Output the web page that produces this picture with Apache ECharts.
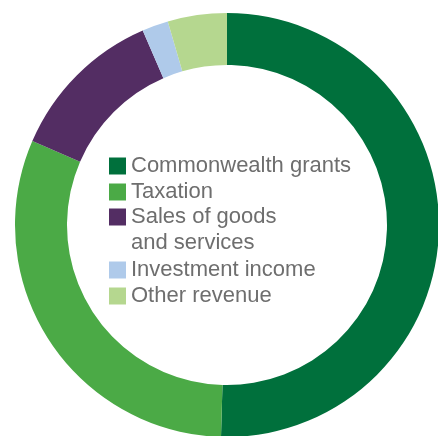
<!DOCTYPE html>
<html>
<head>
<meta charset="utf-8">
<script src="https://cdn.jsdelivr.net/npm/echarts@6/dist/echarts.min.js"></script>
<style>
html,body{margin:0;padding:0;background:#fff;}
#chart{width:438px;height:436px;}
</style>
</head>
<body>
<div id="chart"></div>
<script>
const categories = ['Commonwealth grants', 'Taxation', 'Sales of goods\nand services', 'Investment income', 'Other revenue'];
const values = [50.4, 31.0, 12.0, 2.0, 4.5];
const colors = ['#00703C', '#4BAA46', '#532D63', '#AFCAEA', '#B5D78F'];

const textStyle = {
  fontFamily: 'Liberation Sans',
  fontSize: 22,
  lineHeight: 26,
  color: '#6e6e6e'
};
function legendBlock(names, top, extra) {
  return Object.assign({
    orient: 'vertical',
    left: 109,
    top: top,
    padding: 0,
    itemWidth: 17,
    itemHeight: 17,
    itemGap: 0,
    icon: 'rect',
    selectedMode: false,
    textStyle: textStyle,
    data: names
  }, extra || {});
}

const chart = echarts.init(document.getElementById('chart'), null, {renderer: 'canvas'});
chart.setOption({
  animation: false,
  color: colors,
  legend: [
    legendBlock(categories.slice(0, 2), 153),
    legendBlock(categories.slice(2, 3), 204, {
      itemHeight: 43,
      icon: 'path://M0,0L17,0L17,17L0,17Z M0,43L0,43'
    }),
    legendBlock(categories.slice(3), 257)
  ],
  series: [{
    type: 'pie',
    center: [227, 225],
    radius: [160, 212],
    startAngle: 90,
    clockwise: true,
    label: {show: false},
    labelLine: {show: false},
    emphasis: {disabled: true},
    itemStyle: {borderWidth: 0},
    data: categories.map(function (c, i) { return {name: c, value: values[i]}; })
  }]
});
</script>
</body>
</html>
